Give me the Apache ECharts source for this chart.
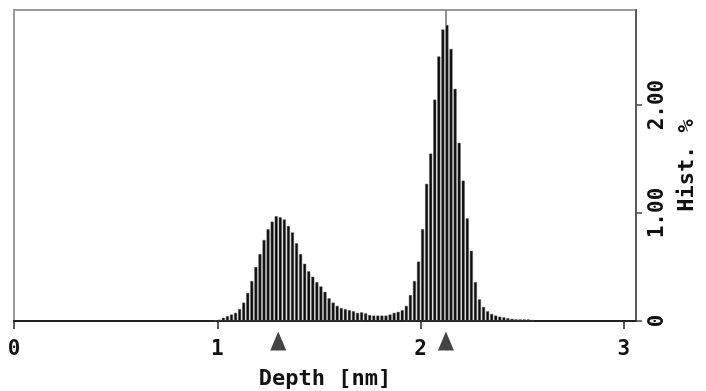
<!DOCTYPE html>
<html>
<head>
<meta charset="utf-8">
<script src="https://cdn.jsdelivr.net/npm/echarts@6/dist/echarts.min.js"></script>
<style>
  html, body { margin: 0; padding: 0; background: #fff; }
  #chart { width: 706px; height: 391px; }
</style>
</head>
<body>
<div id="chart"></div>
<script>
// Depth histogram: bin centres (nm) and share of pixels per bin (%)
const depths = [
  0.99, 1.01, 1.03, 1.05, 1.07, 1.09, 1.11, 1.13, 1.15, 1.17,
  1.19, 1.21, 1.23, 1.25, 1.27, 1.29, 1.31, 1.33, 1.35, 1.37,
  1.39, 1.41, 1.43, 1.45, 1.47, 1.49, 1.51, 1.53, 1.55, 1.57,
  1.59, 1.61, 1.63, 1.65, 1.67, 1.69, 1.71, 1.73, 1.75, 1.77,
  1.79, 1.81, 1.83, 1.85, 1.87, 1.89, 1.91, 1.93, 1.95, 1.97,
  1.99, 2.01, 2.03, 2.05, 2.07, 2.09, 2.11, 2.13, 2.15, 2.17,
  2.19, 2.21, 2.23, 2.25, 2.27, 2.29, 2.31, 2.33, 2.35, 2.37,
  2.39, 2.41, 2.43, 2.45, 2.47, 2.49, 2.51, 2.53, 2.55
];
const histPercent = [
  0.005, 0.012, 0.03, 0.045, 0.06, 0.075, 0.11, 0.17, 0.26, 0.37,
  0.50, 0.62, 0.75, 0.85, 0.92, 0.97, 0.96, 0.94, 0.88, 0.82,
  0.72, 0.62, 0.53, 0.46, 0.41, 0.36, 0.32, 0.27, 0.21, 0.17,
  0.14, 0.12, 0.11, 0.10, 0.09, 0.075, 0.08, 0.07, 0.055, 0.05,
  0.05, 0.05, 0.05, 0.06, 0.075, 0.085, 0.10, 0.14, 0.24, 0.37,
  0.55, 0.85, 1.27, 1.55, 2.05, 2.45, 2.70, 2.74, 2.52, 2.15,
  1.65, 1.30, 0.95, 0.65, 0.36, 0.20, 0.13, 0.09, 0.065, 0.05,
  0.04, 0.034, 0.025, 0.02, 0.016, 0.015, 0.015, 0.015, 0.01
];
// Marked peak depths (nm)
const peakDepths = [1.30, 2.125];
// Axis ticks
const xTicks = [0, 1, 2, 3];
const yTicks = [0, 1, 2];
const xMax = 3.06;
const yMax = 2.88;

const font = '"DejaVu Sans Mono", monospace';
const barData = depths.map((d, i) => [d, histPercent[i]]);
const tallest = histPercent.indexOf(Math.max(...histPercent));

const chart = echarts.init(document.getElementById('chart'), null, { renderer: 'canvas' });
chart.setOption({
  animation: false,
  backgroundColor: '#ffffff',
  grid: {
    left: 14, right: 70, top: 10, bottom: 70,
    outerBoundsMode: 'none', containLabel: false,
    show: true, borderColor: '#9a9a9a', borderWidth: 2, backgroundColor: 'transparent'
  },
  xAxis: {
    type: 'value', min: 0, max: xMax,
    name: 'Depth [nm]', nameLocation: 'middle', nameGap: 47,
    nameTextStyle: { fontFamily: font, fontWeight: 'bold', fontSize: 22, color: '#111' },
    axisLine: { show: true, onZero: false, lineStyle: { color: '#222', width: 2 } },
    axisTick: { show: true, length: 8, inside: false, customValues: xTicks, lineStyle: { color: '#222', width: 1.5 } },
    axisLabel: {
      customValues: xTicks, margin: 18,
      fontFamily: font, fontWeight: 'bold', fontSize: 21, color: '#111'
    },
    splitLine: { show: false }
  },
  yAxis: {
    type: 'value', position: 'right', min: 0, max: yMax,
    name: 'Hist. %', nameLocation: 'middle', nameGap: 40, nameRotate: 90,
    nameTextStyle: { fontFamily: font, fontWeight: 'bold', fontSize: 22, color: '#111' },
    axisLine: { show: true, onZero: false, lineStyle: { color: '#444', width: 1.5 } },
    axisTick: { show: true, length: 6, customValues: yTicks, lineStyle: { color: '#444', width: 1.5 } },
    axisLabel: {
      customValues: yTicks, rotate: 90, margin: 11,
      fontFamily: font, fontWeight: 'bold', fontSize: 21, color: '#111',
      formatter: v => (v === 0 ? '0' : v.toFixed(2))
    },
    splitLine: { show: false }
  },
  series: [{
    type: 'bar',
    data: barData,
    barWidth: 3,
    clip: false,
    itemStyle: { color: '#0c0c0c', borderColor: '#555', borderWidth: 0.5 },
    markLine: {
      silent: true, symbol: 'none', label: { show: false },
      lineStyle: { color: '#707070', width: 1.5, type: 'solid' },
      data: [[
        { coord: [depths[tallest] - 0.005, histPercent[tallest]] },
        { coord: [depths[tallest] - 0.005, yMax] }
      ]]
    },
    markPoint: {
      silent: true,
      symbol: 'triangle',
      symbolSize: [16, 19],
      symbolOffset: [0, 20],
      label: { show: false },
      itemStyle: { color: '#444' },
      data: peakDepths.map(d => ({ coord: [d, 0] }))
    }
  }]
});
</script>
</body>
</html>
